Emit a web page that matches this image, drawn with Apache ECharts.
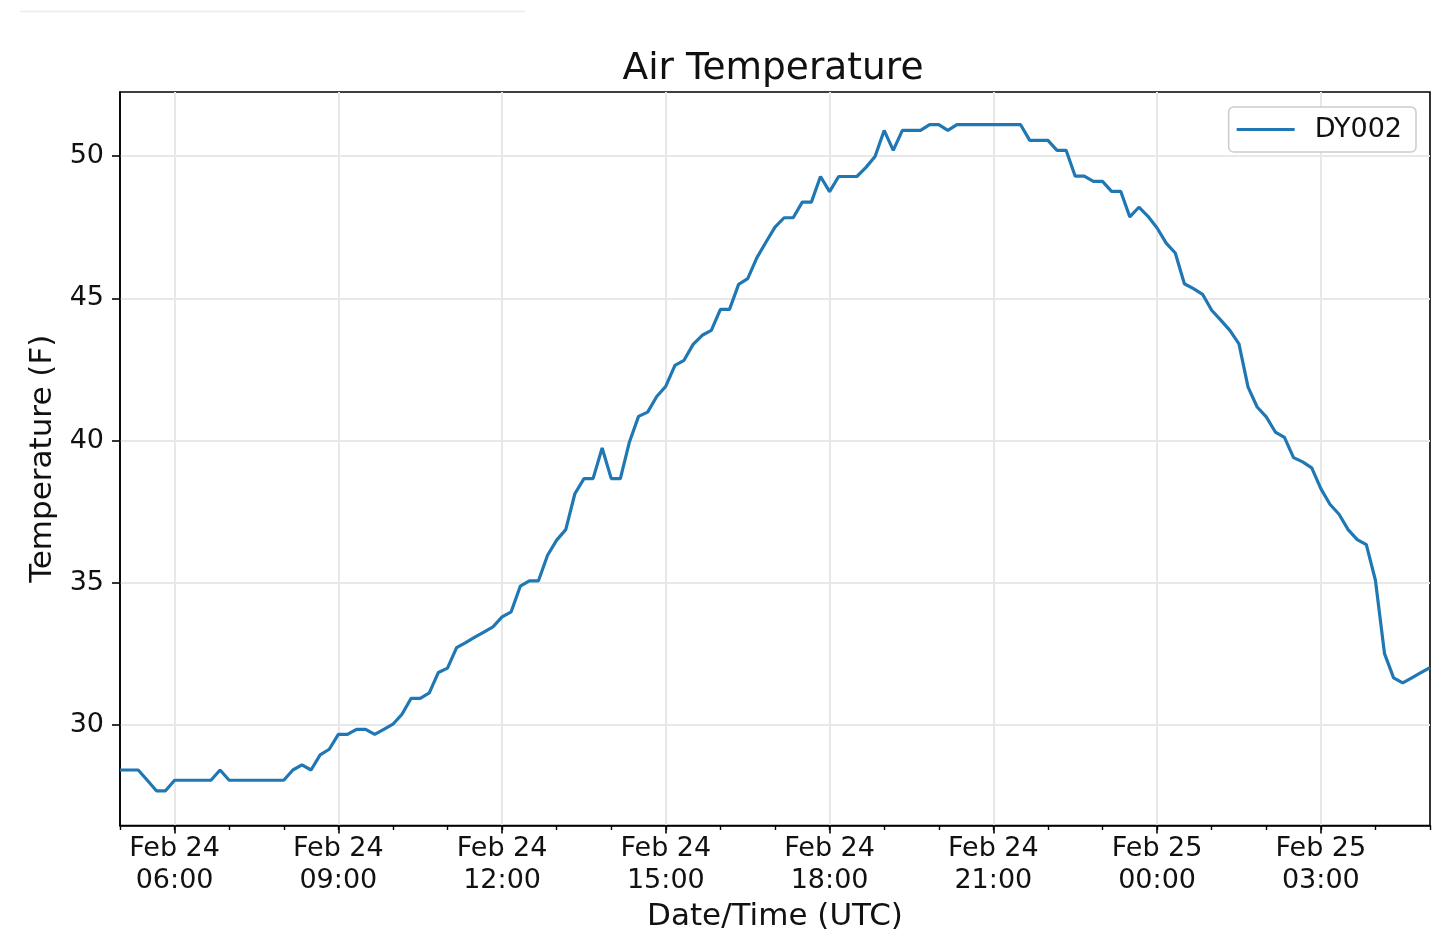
<!DOCTYPE html>
<html>
<head>
<meta charset="utf-8">
<title>Air Temperature</title>
<script src="https://cdn.jsdelivr.net/npm/echarts@6.0.0/dist/echarts.min.js"></script>
<style>
  html, body { margin: 0; padding: 0; background: #fff; }
  #chart { width: 1440px; height: 940px; }
</style>
</head>
<body>
<div id="chart"></div>
<script>
(function(){
  'use strict';

  // station DY002, 10 minute samples, Feb 24 05:00 -> Feb 25 05:00 (UTC)
  var stationName = 'DY002';
  var startHour = 5;
  var stepMinutes = 10;

  var airTempF = [
    28.42, 28.42, 28.42, 28.06, 27.69, 27.69, 28.06, 28.06, 28.06, 28.06,
    28.06, 28.42, 28.06, 28.06, 28.06, 28.06, 28.06, 28.06, 28.06, 28.42,
    28.60, 28.42, 28.95, 29.15, 29.67, 29.67, 29.85, 29.85, 29.67, 29.85,
    30.03, 30.38, 30.94, 30.94, 31.13, 31.85, 32.00, 32.72, 32.90, 33.09,
    33.27, 33.45, 33.80, 33.98, 34.88, 35.07, 35.07, 35.97, 36.50, 36.87,
    38.13, 38.66, 38.66, 39.74, 38.66, 38.66, 39.95, 40.85, 41.00, 41.55,
    41.91, 42.64, 42.82, 43.38, 43.70, 43.87, 44.61, 44.61, 45.49, 45.69,
    46.42, 46.97, 47.50, 47.83, 47.83, 48.38, 48.38, 49.28, 48.75, 49.28,
    49.28, 49.28, 49.60, 49.98, 50.90, 50.20, 50.90, 50.90, 50.90, 51.10,
    51.10, 50.90, 51.10, 51.10, 51.10, 51.10, 51.10, 51.10, 51.10, 51.10,
    50.55, 50.55, 50.55, 50.20, 50.20, 49.29, 49.29, 49.11, 49.11, 48.76,
    48.76, 47.86, 48.20, 47.88, 47.47, 46.94, 46.59, 45.51, 45.34, 45.14,
    44.58, 44.23, 43.87, 43.40, 41.88, 41.18, 40.83, 40.30, 40.11, 39.40,
    39.25, 39.04, 38.31, 37.76, 37.41, 36.87, 36.52, 36.34, 35.09, 32.51,
    31.66, 31.48, 31.66, 31.84, 32.02
  ];

  var majorTicks = [
    'Feb 24 06:00', 'Feb 24 09:00', 'Feb 24 12:00', 'Feb 24 15:00',
    'Feb 24 18:00', 'Feb 24 21:00', 'Feb 25 00:00', 'Feb 25 03:00'
  ];
  var yTicks = [30, 35, 40, 45, 50];

  function pad(n) { return (n < 10 ? '0' : '') + n; }

  // sample timestamps as category labels
  var times = [];
  for (var i = 0; i < airTempF.length; i++) {
    var mins = startHour * 60 + i * stepMinutes;
    var h = Math.floor(mins / 60);
    var day = h >= 24 ? 'Feb 25' : 'Feb 24';
    times.push(day + ' ' + pad(h % 24) + ':' + pad(mins % 60));
  }

  function isMajor(idx, value) { return majorTicks.indexOf(value) >= 0; }
  function isHour(idx, value) { return /:00$/.test(value); }

  var font = 'DejaVu Sans';
  var ink = '#111111';
  var lineColor = '#1f77b4';

  var chart = echarts.init(document.getElementById('chart'));

  chart.setOption({
    backgroundColor: '#ffffff',
    animation: false,
    textStyle: { fontFamily: font, color: ink },
    title: {
      text: 'Air Temperature',
      left: 768,
      textAlign: 'center',
      top: 45,
      textStyle: { fontFamily: font, fontSize: 37.5, fontWeight: 'normal', color: ink }
    },
    legend: {
      data: [{ name: stationName, icon: 'rect' }],
      right: 24,
      top: 107,
      orient: 'vertical',
      backgroundColor: '#ffffff',
      borderColor: '#cccccc',
      borderWidth: 1.5,
      borderRadius: 5,
      padding: [9, 14, 9, 8],
      itemWidth: 58,
      itemHeight: 3,
      itemStyle: { color: lineColor },
      textStyle: { fontFamily: font, fontSize: 27, color: ink, padding: [0, 0, 0, 15] }
    },
    grid: {
      left: 120,
      right: 10,
      top: 92,
      bottom: 114.5,
      show: true,
      backgroundColor: '#ffffff',
      borderColor: '#000000',
      borderWidth: 1.6
    },
    xAxis: [{
      type: 'category',
      position: 'bottom',
      data: times,
      boundaryGap: false,
      name: 'Date/Time (UTC)',
      nameLocation: 'middle',
      nameGap: 74,
      nameTextStyle: { fontFamily: font, fontSize: 31, color: ink },
      axisLine: { show: true, lineStyle: { color: '#000', width: 1.6 } },
      axisTick: { show: true, interval: isMajor, length: 8, lineStyle: { color: '#000', width: 1.6 } },
      axisLabel: {
        interval: isMajor,
        margin: 7,
        fontFamily: font,
        fontSize: 27,
        lineHeight: 32,
        color: ink,
        formatter: function (v) {
          var parts = v.split(' ');
          return parts[0] + ' ' + parts[1] + '\n' + parts[2];
        }
      },
      splitLine: { show: true, interval: isMajor, lineStyle: { color: '#e8e8e8', width: 2 } }
    }, {
      // hourly minor ticks
      type: 'category',
      position: 'bottom',
      data: times,
      boundaryGap: false,
      axisLine: { show: false },
      axisTick: { show: true, interval: isHour, length: 4.5, lineStyle: { color: '#000', width: 1.4 } },
      axisLabel: { show: false },
      splitLine: { show: false }
    }],
    yAxis: {
      type: 'value',
      min: 26.47,
      max: 52.25,
      name: 'Temperature (F)',
      nameLocation: 'middle',
      nameGap: 58,
      nameTextStyle: { fontFamily: font, fontSize: 31, color: ink },
      axisLine: { show: true, lineStyle: { color: '#000', width: 1.6 } },
      axisTick: { show: true, customValues: yTicks, length: 8, lineStyle: { color: '#000', width: 1.6 } },
      axisLabel: { customValues: yTicks, margin: 16, fontFamily: font, fontSize: 27, color: ink },
      splitLine: { show: true, lineStyle: { color: '#e8e8e8', width: 2 } }
    },
    graphic: [{
      type: 'line',
      shape: { x1: 20, y1: 11.5, x2: 525, y2: 11.5 },
      style: { stroke: '#ececec', lineWidth: 1.5 }
    }],
    series: [{
      name: stationName,
      type: 'line',
      data: airTempF,
      symbol: 'none',
      color: lineColor,
      lineStyle: { color: lineColor, width: 3.2 }
    }]
  });
})();
</script>
</body>
</html>
